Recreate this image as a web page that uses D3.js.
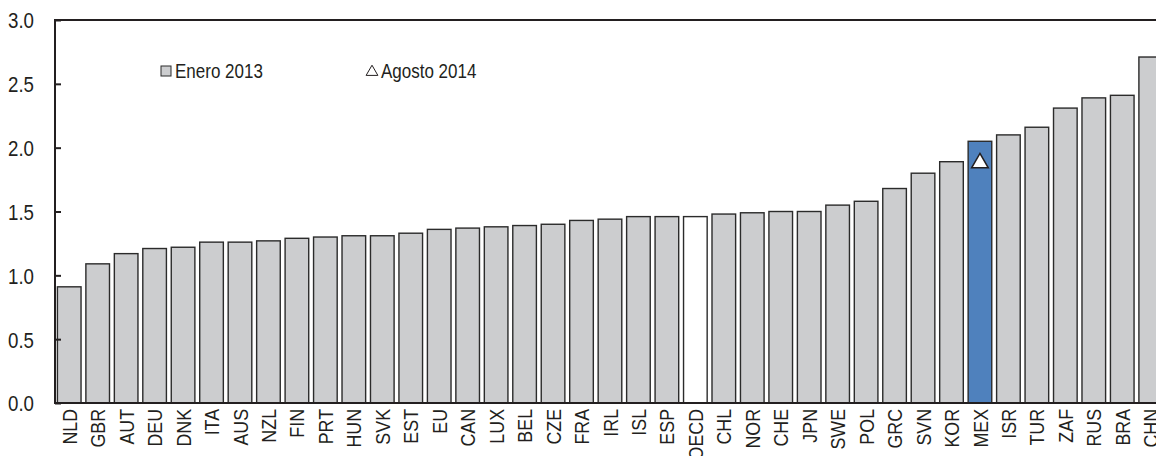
<!DOCTYPE html>
<html lang="es">
<head>
<meta charset="UTF-8" />
<title>Enero 2013 / Agosto 2014</title>
<style>
  html, body { margin: 0; padding: 0; background: #fff; }
  svg text { font-family: "Liberation Sans", Arial, sans-serif; fill: #231f20; }
</style>
</head>
<body>
<svg id="chart"></svg>
<script src="https://d3js.org/d3.v7.min.js"></script>
<script>
  const categories = ['NLD', 'GBR', 'AUT', 'DEU', 'DNK', 'ITA', 'AUS', 'NZL', 'FIN', 'PRT',
    'HUN', 'SVK', 'EST', 'EU', 'CAN', 'LUX', 'BEL', 'CZE', 'FRA', 'IRL', 'ISL', 'ESP', 'OECD',
    'CHL', 'NOR', 'CHE', 'JPN', 'SWE', 'POL', 'GRC', 'SVN', 'KOR', 'MEX', 'ISR', 'TUR', 'ZAF',
    'RUS', 'BRA', 'CHN'];
  const enero2013 = [0.91, 1.09, 1.17, 1.21, 1.22, 1.26, 1.26, 1.27, 1.29, 1.30,
    1.31, 1.31, 1.33, 1.36, 1.37, 1.38, 1.39, 1.40, 1.43, 1.44, 1.46, 1.46, 1.46,
    1.48, 1.49, 1.50, 1.50, 1.55, 1.58, 1.68, 1.80, 1.89, 2.05, 2.10, 2.16, 2.31,
    2.39, 2.41, 2.71];
  // only Mexico has the August 2014 point
  const agosto2014 = [{ country: 'MEX', value: 1.88 }];
  const yTicks = [0, 0.5, 1.0, 1.5, 2.0, 2.5, 3.0];
  const legendLabels = ['Enero 2013', 'Agosto 2014'];

  const width = 1156, height = 456;
  const marginLeft = 55, plotTop = 20, plotBottom = 403;
  const step = 28.46;
  // the original uses a narrow face; squeeze the regular one horizontally
  const narrow = 'scale(0.85,1)';

  const data = categories.map((c, i) => ({ country: c, value: enero2013[i] }));

  const svg = d3.select('#chart')
    .attr('width', width)
    .attr('height', height);

  const x = d3.scaleBand()
    .domain(categories)
    .range([marginLeft, marginLeft + categories.length * step])
    .paddingInner(0.17)
    .paddingOuter(0.085);

  const y = d3.scaleLinear()
    .domain([0, 3])
    .range([plotBottom, plotTop]);

  const fillFor = c => c === 'MEX' ? '#4f81bd' : (c === 'OECD' ? '#ffffff' : '#cccdcf');

  svg.append('g')
    .selectAll('rect')
    .data(data)
    .join('rect')
    .attr('x', d => x(d.country))
    .attr('y', d => y(d.value))
    .attr('width', x.bandwidth())
    .attr('height', d => y(0) - y(d.value))
    .attr('fill', d => fillFor(d.country))
    .attr('stroke', '#2b2b2b')
    .attr('stroke-width', 1.4);

  // triangles for Agosto 2014
  const tri = d3.symbol().type(d3.symbolTriangle).size(120);
  svg.append('g')
    .selectAll('path')
    .data(agosto2014)
    .join('path')
    .attr('d', tri)
    .attr('transform', d => `translate(${x(d.country) + x.bandwidth() / 2},${y(d.value)})`)
    .attr('fill', '#fff')
    .attr('stroke', '#231f20')
    .attr('stroke-width', 1.5);

  // y axis
  const yAxis = svg.append('g')
    .attr('transform', `translate(${marginLeft},0)`)
    .call(d3.axisRight(y).tickValues(yTicks).tickSize(6).tickFormat(d3.format('.1f')));
  yAxis.select('.domain').remove();
  yAxis.selectAll('line').attr('stroke', '#231f20').attr('stroke-width', 2);
  yAxis.selectAll('text')
    .attr('x', 0)
    .attr('transform', 'translate(-21,0) ' + narrow)
    .attr('text-anchor', 'end')
    .attr('dy', '0.36em')
    .style('font-size', '22px');

  svg.append('line')
    .attr('x1', marginLeft).attr('x2', marginLeft)
    .attr('y1', plotTop - 1).attr('y2', plotBottom + 1)
    .attr('stroke', '#231f20').attr('stroke-width', 2);
  svg.append('line')
    .attr('x1', marginLeft - 1).attr('x2', width)
    .attr('y1', plotTop).attr('y2', plotTop)
    .attr('stroke', '#231f20').attr('stroke-width', 2);

  // x axis
  const xAxis = svg.append('g')
    .attr('transform', `translate(0,${plotBottom})`)
    .call(d3.axisBottom(x).tickSize(0));
  xAxis.select('.domain').remove();
  xAxis.selectAll('text')
    .attr('transform', 'rotate(-90) ' + narrow)
    .attr('x', -7)
    .attr('y', 0)
    .attr('dy', '0.36em')
    .attr('text-anchor', 'end')
    .style('font-size', '21px');
  svg.append('line')
    .attr('x1', marginLeft - 1).attr('x2', width)
    .attr('y1', plotBottom).attr('y2', plotBottom)
    .attr('stroke', '#231f20').attr('stroke-width', 2);

  // legend
  const legend = svg.append('g');
  legend.append('rect')
    .attr('x', 161).attr('y', 66)
    .attr('width', 10).attr('height', 10)
    .attr('fill', '#cccdcf').attr('stroke', '#2b2b2b').attr('stroke-width', 1);
  legend.append('text')
    .attr('transform', 'translate(175,78) ' + narrow)
    .style('font-size', '20px')
    .text(legendLabels[0]);
  legend.append('path')
    .attr('d', d3.symbol().type(d3.symbolTriangle).size(60))
    .attr('transform', 'translate(372,72)')
    .attr('fill', '#fff').attr('stroke', '#231f20').attr('stroke-width', 1);
  legend.append('text')
    .attr('transform', 'translate(381,78) ' + narrow)
    .style('font-size', '20px')
    .text(legendLabels[1]);
</script>
</body>
</html>
